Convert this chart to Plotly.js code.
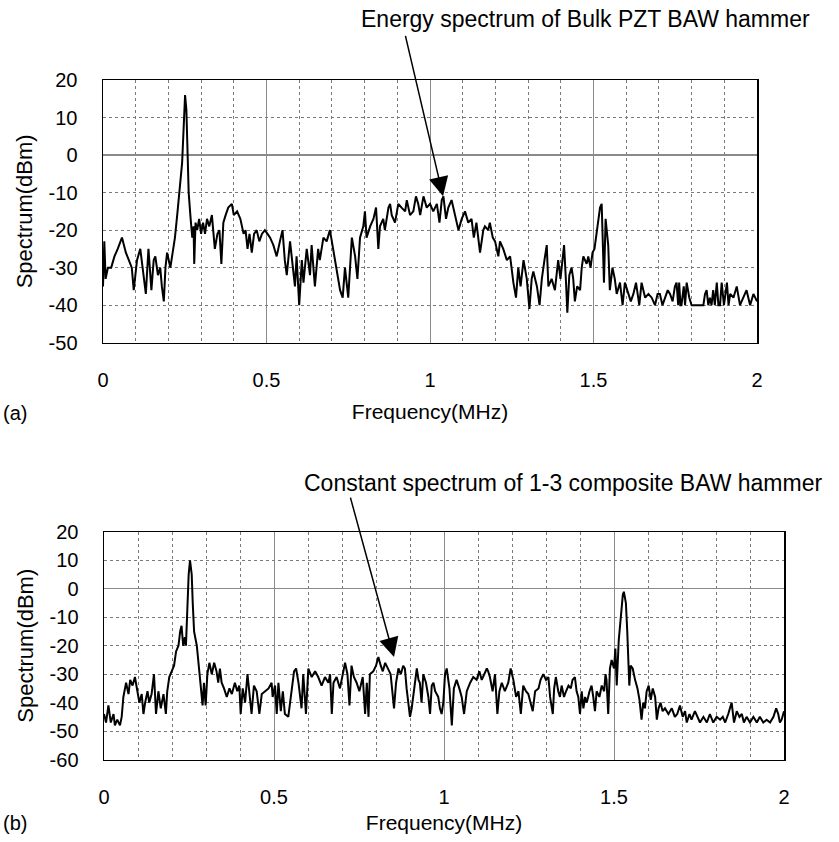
<!DOCTYPE html>
<html>
<head>
<meta charset="utf-8">
<script src="https://cdn.plot.ly/plotly-3.0.1.min.js"></script>
<style>
html,body{margin:0;padding:0;background:#fff;}
#chart{width:839px;height:842px;}
</style>
</head>
<body>
<div id="chart"></div>
<script>
// (a) Energy spectrum of Bulk PZT BAW hammer
const freqA = [0.000,0.004,0.008,0.015,0.025,0.035,0.045,0.058,0.070,0.078,0.088,0.094,0.104,0.114,0.122,0.131,0.139,0.148,0.155,0.160,0.168,0.175,0.180,0.186,0.191,0.196,0.206,0.214,0.220,0.228,0.236,0.242,0.247,0.251,0.255,0.258,0.262,0.268,0.273,0.277,0.279,0.283,0.288,0.294,0.300,0.306,0.312,0.318,0.325,0.333,0.338,0.342,0.350,0.356,0.362,0.368,0.375,0.383,0.394,0.400,0.410,0.420,0.430,0.436,0.442,0.448,0.455,0.462,0.470,0.478,0.486,0.495,0.503,
0.511,0.521,0.531,0.541,0.549,0.556,0.562,0.572,0.582,0.587,0.592,0.600,0.608,0.613,0.623,0.633,0.638,0.648,0.658,0.663,0.674,0.684,0.694,0.704,0.715,0.725,0.733,0.740,0.750,0.761,0.771,0.778,0.786,0.796,0.801,0.806,0.817,0.827,0.835,0.842,0.847,0.857,0.862,0.873,0.878,0.883,0.893,0.903,0.913,0.924,0.929,0.939,0.949,0.957,0.964,0.970,0.980,0.990,1.000,1.010,1.021,1.029,1.036,1.041,1.049,1.056,1.066,1.076,1.087,1.097,1.107,1.117,1.127,1.134,1.142,1.153,1.163,1.168,1.178,1.183,1.192,1.199,1.209,1.214,1.224,1.235,1.245,1.255,1.263,1.270,1.277,1.286,1.296,1.304,1.311,1.316,1.327,1.335,1.342,1.350,
1.357,1.362,1.372,1.382,1.392,1.399,1.406,1.410,1.416,1.420,1.426,1.433,1.438,1.443,1.450,1.459,1.464,1.469,1.479,1.484,1.491,1.497,1.503,1.508,1.515,1.520,1.525,1.528,1.532,1.537,1.545,1.550,1.558,1.565,1.571,1.581,1.589,1.596,1.606,1.614,1.622,1.630,1.640,1.647,1.658,1.668,1.678,1.688,1.696,1.703,1.711,1.719,1.727,1.734,1.742,1.749,1.754,1.759,1.762,1.766,1.769,1.776,1.780,1.785,1.793,1.800,1.815,1.836,1.841,1.846,1.851,1.856,1.861,1.866,1.871,1.877,1.882,1.887,1.892,1.899,1.908,1.913,1.918,1.928,1.938,1.948,1.958,1.968,1.979,1.989,2.000];
const specA = [-35,-23,-33,-30,-30,-27,-25,-22,-26,-28,-30,-36,-28,-25,-30,-37,-25,-36,-28,-27,-32,-30,-35,-39,-30,-26,-30,-25,-22,-15,-8,-2,8,16,12,0,-10,-17,-22,-19,-29,-18,-20,-17,-21,-18,-21,-17,-19,-16,-22,-25,-21,-20,-29,-18,-16,-14,-13,-16,-15,-17,-21,-20,-25,-21,-26,-21,-20,-23,-21,-20,-21,
-22,-24,-27,-23,-20,-28,-32,-23,-30,-35,-27,-40,-28,-34,-25,-32,-24,-35,-25,-28,-22,-23,-20,-25,-30,-36,-38,-30,-38,-22,-27,-33,-22,-19,-15,-22,-19,-17,-14,-25,-19,-17,-20,-14,-13,-16,-18,-13,-14,-15,-12,-16,-15,-11,-13,-16,-11,-14,-13,-15,-13,-18,-12,-11,-17,-14,-12,-16,-20,-17,-15,-18,-17,-22,-18,-26,-20,-19,-20,-18,-22,-23,-27,-23,-25,-28,-27,-34,-38,-30,-35,-28,-33,-41,-33,-31,-35,-40,-33,-28,
-24,-35,-33,-36,-28,-33,-27,-24,-34,-42,-32,-30,-33,-39,-35,-36,-30,-27,-29,-27,-30,-26,-25,-22,-17,-14,-13,-22,-34,-17,-24,-36,-30,-33,-37,-34,-40,-34,-37,-39,-37,-34,-40,-34,-38,-37,-38,-40,-37,-37,-40,-38,-36,-37,-39,-35,-34,-40,-34,-40,-40,-35,-40,-34,-38,-40,-40,-40,-37,-36,-40,-38,-40,-36,-40,-34,-40,-40,-34,-40,-34,-40,-37,-38,-35,-40,-38,-36,-40,-37,-39];

// (b) Constant spectrum of 1-3 composite BAW hammer
const freqB = [0.000,0.006,0.013,0.020,0.028,0.032,0.039,0.047,0.052,0.057,0.065,0.072,0.077,0.084,0.091,0.098,0.104,0.111,0.116,0.121,0.128,0.133,0.140,0.147,0.153,0.160,0.167,0.175,0.182,0.186,0.192,0.199,0.206,0.212,0.219,0.224,0.228,0.233,0.238,0.241,0.245,0.249,0.253,0.258,0.261,0.265,0.273,0.279,0.285,0.290,0.294,0.299,0.304,0.310,0.317,0.324,0.331,0.336,0.341,0.346,0.353,0.361,0.369,0.376,0.385,0.392,0.398,0.402,0.408,0.415,0.422,0.428,0.434,0.441,0.449,0.457,0.464,0.474,0.484,0.493,
0.496,0.503,0.508,0.513,0.520,0.526,0.532,0.542,0.552,0.559,0.565,0.572,0.581,0.586,0.594,0.601,0.611,0.621,0.630,0.640,0.650,0.660,0.665,0.670,0.675,0.684,0.694,0.704,0.709,0.716,0.722,0.728,0.735,0.743,0.751,0.761,0.768,0.773,0.778,0.782,0.792,0.800,0.807,0.814,0.820,0.827,0.836,0.843,0.853,0.859,0.866,0.873,0.880,0.885,0.890,0.900,0.905,0.912,0.920,0.925,0.929,0.934,0.939,0.947,0.954,0.959,0.964,0.969,0.974,0.983,0.988,0.993,0.998,1.003,1.008,1.016,1.023,1.029,1.037,1.045,1.052,1.059,1.067,1.077,1.086,1.096,1.104,1.111,1.118,1.126,1.130,1.135,1.143,1.150,1.157,1.163,1.170,1.179,1.189,1.196,1.204,1.212,1.219,1.226,1.233,1.241,1.248,1.255,1.261,1.268,1.278,1.284,1.292,1.300,1.307,
1.312,1.320,1.324,1.329,1.336,1.341,1.346,1.353,1.359,1.366,1.373,1.378,1.385,1.390,1.395,1.400,1.405,1.410,1.415,1.420,1.428,1.434,1.439,1.444,1.449,1.457,1.464,1.471,1.475,1.478,1.483,1.488,1.493,1.500,1.504,1.508,1.514,1.520,1.526,1.529,1.535,1.539,1.542,1.545,1.549,1.555,1.562,1.569,1.575,1.581,1.586,1.591,1.596,1.602,1.608,1.614,1.621,1.626,1.631,1.637,1.643,1.650,1.660,1.670,1.679,1.686,1.694,1.702,1.709,1.714,1.722,1.728,1.738,1.745,1.753,1.763,1.773,1.782,1.792,1.802,1.812,1.820,1.827,1.836,1.846,1.853,1.861,1.869,1.876,1.882,1.890,1.900,1.910,1.920,1.929,1.939,1.949,1.959,1.969,1.977,1.983,1.988,1.993,2.000];
const specB = [-44,-47,-41,-47,-44,-48,-46,-48,-45,-38,-33,-37,-32,-34,-31,-36,-40,-37,-44,-40,-36,-40,-37,-30,-44,-36,-42,-37,-44,-36,-31,-29,-27,-22,-20,-15,-13,-20,-17,-20,-5,5,10,5,-5,-15,-20,-28,-36,-41,-33,-41,-30,-26,-30,-26,-29,-33,-28,-33,-35,-38,-35,-37,-33,-36,-34,-44,-35,-40,-30,-38,-44,-34,-36,-44,-37,-36,-35,-33,
-38,-34,-44,-33,-43,-36,-44,-45,-35,-29,-28,-33,-42,-30,-44,-28,-31,-29,-31,-34,-31,-33,-30,-44,-33,-31,-35,-29,-26,-30,-41,-27,-31,-33,-36,-31,-44,-33,-45,-30,-29,-27,-24,-27,-29,-26,-28,-30,-42,-33,-28,-30,-27,-28,-35,-45,-42,-36,-28,-32,-33,-40,-30,-33,-38,-44,-34,-33,-36,-38,-42,-44,-40,-30,-28,-35,-48,-35,-32,-35,-38,-44,-36,-33,-31,-32,-29,-32,-30,-28,-29,-31,-36,-30,-44,-36,-33,-36,-33,-28,-32,-38,-36,-44,-34,-36,-37,-40,-43,-36,-35,-32,-30,-32,-31,
-38,-44,-35,-31,-36,-38,-34,-38,-36,-34,-35,-32,-31,-36,-38,-44,-36,-42,-38,-40,-36,-34,-38,-43,-36,-38,-34,-36,-30,-32,-44,-28,-25,-28,-21,-34,-18,-10,-2,-1,-5,-15,-25,-34,-27,-28,-32,-35,-39,-46,-40,-42,-36,-34,-39,-35,-38,-46,-42,-40,-43,-42,-44,-42,-45,-44,-41,-45,-43,-47,-44,-46,-43,-45,-47,-45,-47,-44,-47,-45,-46,-45,-47,-44,-40,-47,-43,-45,-44,-47,-45,-47,-45,-47,-45,-47,-46,-47,-45,-42,-44,-47,-46,-43];

const xTicks = [0, 0.5, 1, 1.5, 2];
const yTicksA = [-50, -40, -30, -20, -10, 0, 10, 20];
const yTicksB = [-60, -50, -40, -30, -20, -10, 0, 10, 20];

const FONT = 'Liberation Sans, Arial, sans-serif';
const W = 839, H = 842;

const traceA = {x: freqA, y: specA, xaxis: 'x', yaxis: 'y', type: 'scatter', mode: 'lines',
  line: {color: '#000', width: 2}, hoverinfo: 'skip'};
const traceB = {x: freqB, y: specB, xaxis: 'x2', yaxis: 'y2', type: 'scatter', mode: 'lines',
  line: {color: '#000', width: 2}, hoverinfo: 'skip'};

function xAxis(domain, anchor, titleStandoff) {
  return {
    domain: domain, anchor: anchor, range: [0, 2], tickvals: xTicks, ticktext: xTicks.map(String),
    showgrid: true, gridcolor: '#8a8a8a', gridwidth: 1,
    minor: {dtick: 0.1, showgrid: true, gridcolor: '#7a7a7a', gridwidth: 1, griddash: '3px,3px', ticks: ''},
    zeroline: false, showline: true, mirror: true, linecolor: '#000', linewidth: 1.5,
    ticks: '', ticklabelstandoff: 19,
    tickfont: {family: FONT, size: 20, color: '#000'},
    title: {text: 'Frequency(MHz)', font: {family: FONT, size: 21, color: '#000'}, standoff: titleStandoff}
  };
}
function yAxis(domain, anchor, range, vals) {
  return {
    domain: domain, anchor: anchor, range: range, tickvals: vals, ticktext: vals.map(String),
    showgrid: true, gridcolor: '#7a7a7a', gridwidth: 1, griddash: '3px,3px',
    zeroline: true, zerolinecolor: '#8a8a8a', zerolinewidth: 1.2,
    showline: true, mirror: true, linecolor: '#000', linewidth: 1.5,
    ticks: '', ticklabelstandoff: 20,
    tickfont: {family: FONT, size: 20, color: '#000'},
    title: {text: 'Spectrum(dBm)', font: {family: FONT, size: 22, color: '#000'}, standoff: 10}
  };
}

const layout = {
  width: W, height: H, showlegend: false,
  paper_bgcolor: '#fff', plot_bgcolor: '#fff',
  margin: {l: 0, r: 0, t: 0, b: 0},
  xaxis: xAxis([103 / W, 757 / W], 'y', 14),
  yaxis: yAxis([1 - 342.7 / H, 1 - 80 / H], 'x', [-50, 20], yTicksA),
  xaxis2: xAxis([104 / W, 784 / W], 'y2', 8),
  yaxis2: yAxis([1 - 759.5 / H, 1 - 532 / H], 'x2', [-60, 20], yTicksB),
  annotations: [
    {xref: 'paper', yref: 'paper', x: 585 / W, y: 1 - 19 / H, text: 'Energy spectrum of Bulk PZT BAW hammer',
     showarrow: false, xanchor: 'center', yanchor: 'middle', font: {family: FONT, size: 23, color: '#000'}},
    {xref: 'x', yref: 'y', x: 1.04, y: -11, text: '', showarrow: true, arrowhead: 2, arrowsize: 2.6,
     arrowwidth: 1.5, arrowcolor: '#000', ax: -38, ay: -162, standoff: 0},
    {xref: 'paper', yref: 'paper', x: 563 / W, y: 1 - 483 / H, text: 'Constant spectrum of 1-3 composite BAW hammer',
     showarrow: false, xanchor: 'center', yanchor: 'middle', font: {family: FONT, size: 23, color: '#000'}},
    {xref: 'x2', yref: 'y2', x: 0.853, y: -24, text: '', showarrow: true, arrowhead: 2, arrowsize: 2.6,
     arrowwidth: 1.5, arrowcolor: '#000', ax: -44, ay: -161, standoff: 0},
    {xref: 'paper', yref: 'paper', x: 15 / W, y: 1 - 413 / H, text: '(a)', showarrow: false,
     xanchor: 'center', yanchor: 'middle', font: {family: FONT, size: 20, color: '#000'}},
    {xref: 'paper', yref: 'paper', x: 15 / W, y: 1 - 823 / H, text: '(b)', showarrow: false,
     xanchor: 'center', yanchor: 'middle', font: {family: FONT, size: 20, color: '#000'}}
  ]
};

Plotly.newPlot('chart', [traceA, traceB], layout, {staticPlot: true, displayModeBar: false});
</script>
</body>
</html>
